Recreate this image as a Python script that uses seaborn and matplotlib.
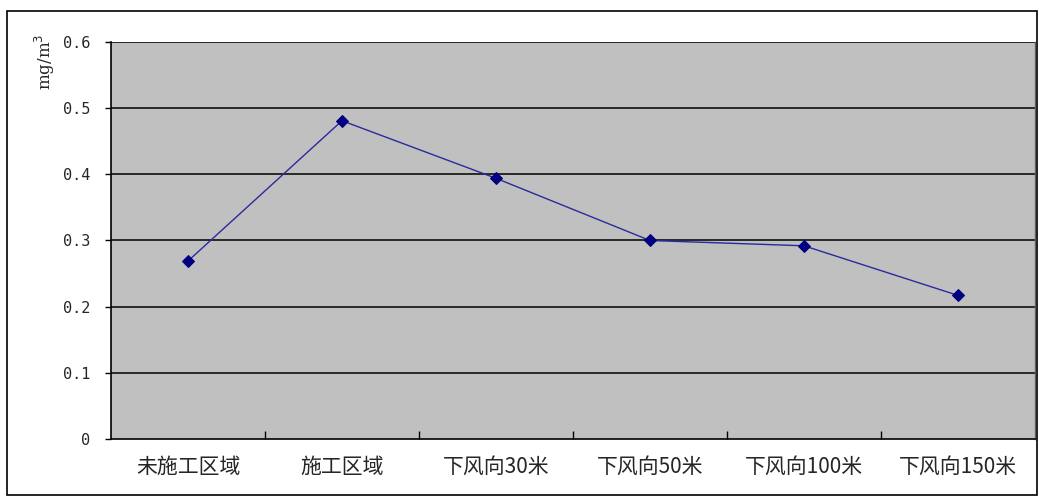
import matplotlib
matplotlib.use("Agg")
import matplotlib.pyplot as plt
import seaborn as sns
import pandas as pd
from matplotlib.patches import Rectangle
from matplotlib.ticker import FixedLocator

categories = ["未施工区域", "施工区域", "下风向30米", "下风向50米", "下风向100米", "下风向150米"]
values = [0.269, 0.481, 0.394, 0.300, 0.292, 0.217]
yticks = [0, 0.1, 0.2, 0.3, 0.4, 0.5, 0.6]
ytick_labels = ["0", "0.1", "0.2", "0.3", "0.4", "0.5", "0.6"]

sns.set_theme(style="white")
plt.rcParams['font.family'] = ['Noto Sans CJK SC', 'DejaVu Sans']

df = pd.DataFrame({"cat": categories, "val": values})

W, H = 1039, 497
fig = plt.figure(figsize=(W / 100, H / 100), dpi=100)
ax = fig.add_axes([111 / W, 1 - 439 / H, (1035 - 111) / W, (439 - 42) / H])
ax.set_facecolor("#C0C0C0")

sns.lineplot(data=df, x="cat", y="val", ax=ax, color="#2a2aa0", linewidth=1.0,
             marker="D", markersize=6.5, markerfacecolor="#000080",
             markeredgecolor="#000080", sort=False)

ax.set_xlim(-0.5, len(categories) - 0.5)
ax.set_ylim(0, 0.6)
ax.set_yticks(yticks)
ax.set_yticklabels(ytick_labels, family=['DejaVu Sans Mono'], fontsize=11)
for y in yticks[1:]:
    ax.axhline(y, color="black", linewidth=1.1, zorder=1)

ax.set_xticks(range(len(categories)))
ax.set_xticklabels(categories, fontsize=15)
ax.tick_params(axis="x", which="major", bottom=True, length=0, pad=12)
ax.xaxis.set_minor_locator(FixedLocator([i + 0.5 for i in range(len(categories) - 1)]))
ax.tick_params(axis="x", which="minor", bottom=True, direction="in", length=6, width=1, color="black")
ax.tick_params(axis="y", which="major", left=True, direction="out", length=4, width=1, color="black", pad=11)
ax.set_xlabel("")
ax.set_ylabel("")

for s in ["left", "bottom"]:
    ax.spines[s].set_color("black")
    ax.spines[s].set_linewidth(1.2)
ax.spines["top"].set_visible(False)
ax.spines["right"].set_color("#606060")
ax.spines["right"].set_linewidth(1.0)

fig.text(45 / W, 1 - 62 / H, "mg/m$^3$", rotation=90, ha="center", va="center",
         fontsize=12, family=['DejaVu Serif'])

fig.patches.append(Rectangle((7 / W, 1 - 495 / H), (1037 - 7) / W, (495 - 11) / H,
                             transform=fig.transFigure, fill=False,
                             edgecolor="black", linewidth=1.2))

fig.savefig("out.png", dpi=100)
